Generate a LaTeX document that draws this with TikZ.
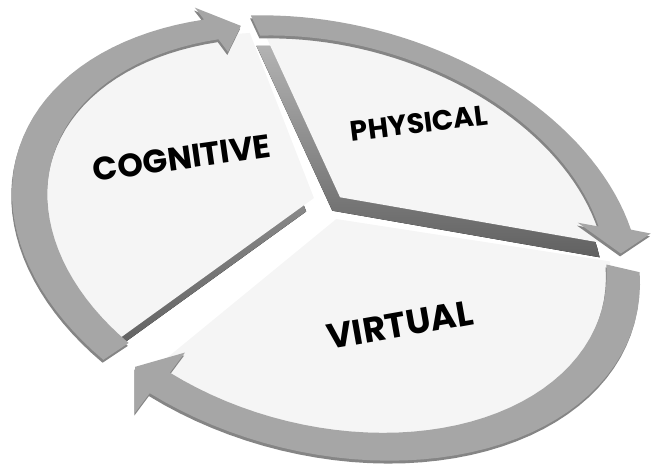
\documentclass[tikz,border=0pt]{standalone}
\usepackage{fontspec}
\newfontfamily\segfont{Poppins}
\usepackage{tikz}
\usetikzlibrary{calc}

\tikzset{
  ringband/.style={fill=black!35},
  ringedge/.style={fill=black!48},
  slabtop/.style={fill=black!4},
  slabside/.style={top color=black!30, bottom color=black!62},
  segtext/.style={inner sep=0pt, text=black},
}

\begin{document}
\begin{tikzpicture}[x=0.02cm, y=-0.02cm,
    declare function={
      ox(\t)=320*cos(\t);  oy(\t)=214*sin(\t);
      ix(\t)=285*cos(\t);  iy(\t)=191*sin(\t)-4;
      mx(\t)=302*cos(\t);  my(\t)=203*sin(\t)-2;
      box(\t)=342*cos(\t); boy(\t)=232*sin(\t)+6;
      bix(\t)=262*cos(\t); biy(\t)=172*sin(\t)-10;
      sx(\t)=289*cos(\t);  sy(\t)=194*sin(\t)-4;
    }]
  \useasboundingbox (0,0) rectangle (651,468);

  \begin{scope}[shift={(326,238)}, rotate=-15]
    % three slabs: side face first, then the top face
    \foreach \apex/\from/\to in {{(-22,-35.5)}/127/244, {(3,-43)}/247/341, {(5,-21)}/346/477} {
      \fill[slabside, shift={(-4,15)}] \apex -- plot[domain=\from:\to, samples=40] ({sx(\x)},{sy(\x)}) -- cycle;
      \fill[slabtop] \apex -- plot[domain=\from:\to, samples=40] ({sx(\x)},{sy(\x)}) -- cycle;
    }

    % ring of arrows round the slabs
    \foreach \s/\e/\p in {125/237/243, 246/336/343, 347/474/480} {
      \fill[ringedge, shift={(0,3)}] plot[domain=\s:\e, samples=40] ({ox(\x)},{oy(\x)})
        -- ({box(\e)},{boy(\e)}) -- ({mx(\p)},{my(\p)}) -- ({bix(\e)},{biy(\e)})
        -- plot[domain=\e:\s, samples=40] ({ix(\x)},{iy(\x)}) -- cycle;
      \fill[ringband] plot[domain=\s:\e, samples=40] ({ox(\x)},{oy(\x)})
        -- ({box(\e)},{boy(\e)}) -- ({mx(\p)},{my(\p)}) -- ({bix(\e)},{biy(\e)})
        -- plot[domain=\e:\s, samples=40] ({ix(\x)},{iy(\x)}) -- cycle;
    }
  \end{scope}

  % segment names
  \node[segtext, rotate=8, font=\segfont\bfseries\fontsize{18.5}{22}\selectfont] (cogtext) at (182,158) {COGNITIVE};
  \node[segtext, rotate=7, font=\segfont\bfseries\fontsize{16}{19}\selectfont] (phytext) at (419,123) {PHYSICAL};
  \node[segtext, rotate=10, font=\segfont\bfseries\fontsize{20}{24}\selectfont] (virtext) at (400,325) {VIRTUAL};
\end{tikzpicture}
\end{document}
